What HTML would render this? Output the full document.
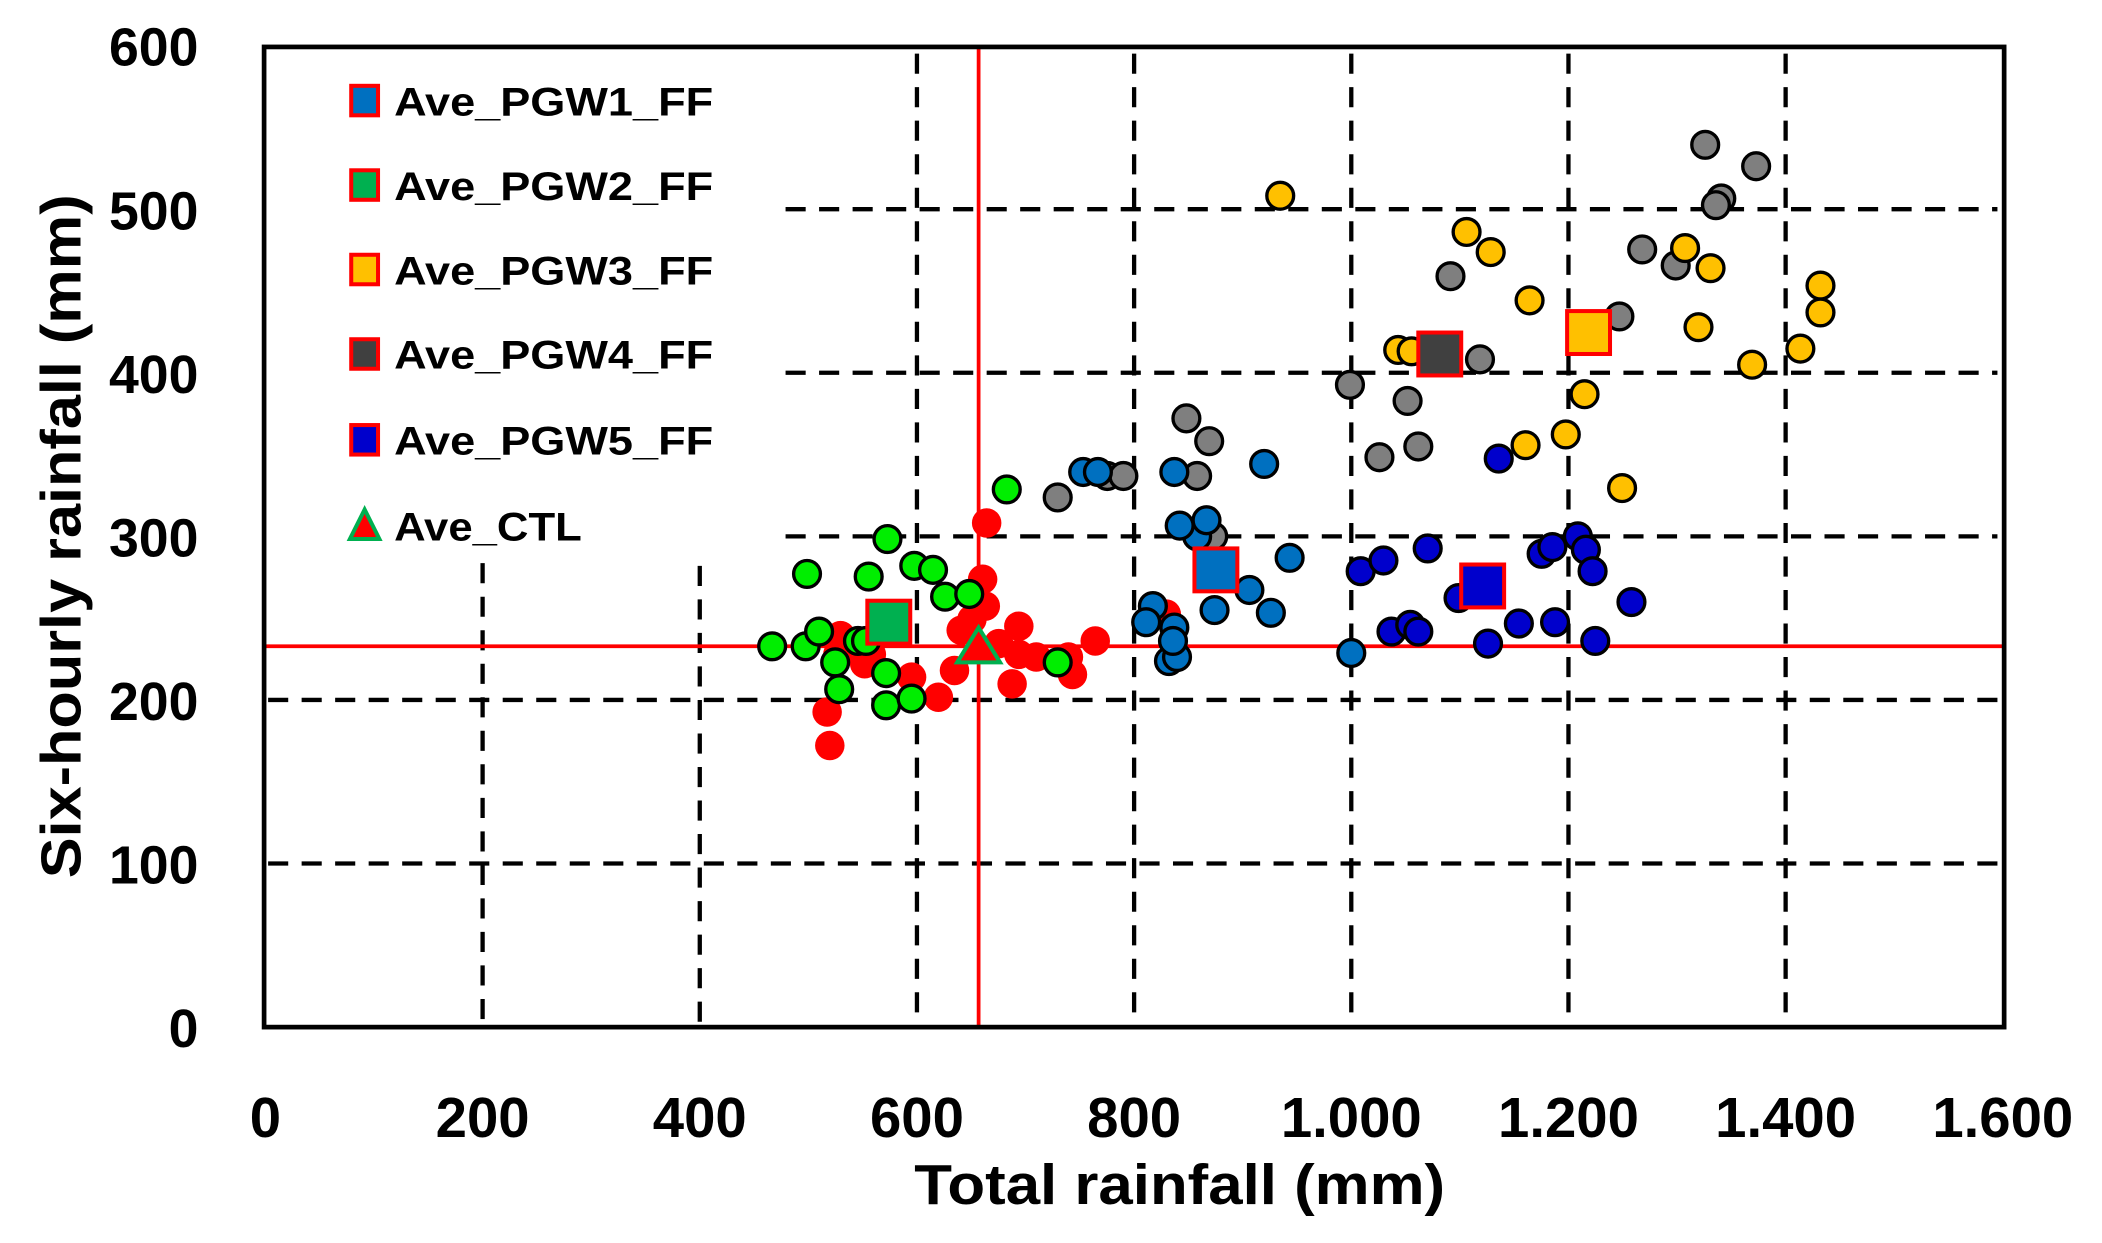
<!DOCTYPE html>
<html><head><meta charset="utf-8"><style>html,body{margin:0;padding:0;background:#fff;}svg{display:block}</style></head>
<body>
<svg width="2102" height="1243" viewBox="0 0 1568 927" preserveAspectRatio="none" xmlns="http://www.w3.org/2000/svg" font-family="Liberation Sans, sans-serif" font-weight="bold">
<rect width="1568" height="927" fill="#fff"/>
<g stroke="#000" stroke-width="3.2" stroke-dasharray="15,10" fill="none">
<line x1="360" y1="420" x2="360" y2="766"/>
<line x1="522" y1="422" x2="522" y2="766"/>
<line x1="684" y1="40" x2="684" y2="766"/>
<line x1="846" y1="40" x2="846" y2="766"/>
<line x1="1008" y1="40" x2="1008" y2="766"/>
<line x1="1170" y1="40" x2="1170" y2="766"/>
<line x1="1332" y1="40" x2="1332" y2="766"/>
<line x1="586" y1="156" x2="1490" y2="156"/>
<line x1="586" y1="278" x2="1490" y2="278"/>
<line x1="586" y1="400" x2="1490" y2="400"/>
<line x1="200" y1="522" x2="1490" y2="522"/>
<line x1="200" y1="644" x2="1490" y2="644"/>
</g>
<line x1="730" y1="36" x2="730" y2="766" stroke="#f00" stroke-width="2.8"/>
<line x1="197" y1="482" x2="1495" y2="482" stroke="#f00" stroke-width="2.8"/>
<g fill="#ff0000">
<circle cx="617" cy="531" r="11"/><circle cx="619" cy="556" r="11"/><circle cx="627" cy="474" r="11"/><circle cx="650" cy="488" r="11"/><circle cx="680" cy="505" r="11"/><circle cx="700" cy="520" r="11"/><circle cx="717" cy="470" r="11"/><circle cx="733" cy="432" r="11"/><circle cx="736" cy="390" r="11"/><circle cx="760" cy="467" r="11"/><circle cx="755" cy="510" r="11"/><circle cx="773" cy="490" r="11"/><circle cx="797" cy="490" r="11"/><circle cx="817" cy="478" r="11"/><circle cx="800" cy="503" r="11"/><circle cx="870" cy="458" r="11"/><circle cx="725" cy="462" r="11"/><circle cx="625" cy="488" r="11"/><circle cx="645" cy="495" r="11"/><circle cx="760" cy="488" r="11"/><circle cx="735" cy="452" r="11"/><circle cx="712" cy="500" r="11"/><circle cx="745" cy="480" r="11"/>
</g>
<g stroke="#000" stroke-width="2.5">
<g fill="#00ee00">
<circle cx="576" cy="482" r="10"/><circle cx="601" cy="482" r="10"/><circle cx="611" cy="471" r="10"/><circle cx="623" cy="494" r="10"/><circle cx="626" cy="514" r="10"/><circle cx="640" cy="478" r="10"/><circle cx="662" cy="402" r="10"/><circle cx="648" cy="430" r="10"/><circle cx="661" cy="502" r="10"/><circle cx="661" cy="526" r="10"/><circle cx="682" cy="422" r="10"/><circle cx="696" cy="425" r="10"/><circle cx="705" cy="445" r="10"/><circle cx="723" cy="443" r="10"/><circle cx="680" cy="521" r="10"/><circle cx="602" cy="428" r="10"/><circle cx="789" cy="494" r="10"/><circle cx="751" cy="365" r="10"/><circle cx="646" cy="478" r="10"/>
</g>
<g fill="#7f7f7f">
<circle cx="1272" cy="108" r="10"/><circle cx="1310" cy="124" r="10"/><circle cx="1284" cy="148" r="10"/><circle cx="1280" cy="153" r="10"/><circle cx="1225" cy="186" r="10"/><circle cx="1250" cy="198" r="10"/><circle cx="1082" cy="206" r="10"/><circle cx="1104" cy="268" r="10"/><circle cx="1007" cy="287" r="10"/><circle cx="1050" cy="299" r="10"/><circle cx="1029" cy="341" r="10"/><circle cx="1058" cy="333" r="10"/><circle cx="885" cy="312" r="10"/><circle cx="902" cy="329" r="10"/><circle cx="893" cy="355" r="10"/><circle cx="826" cy="355" r="10"/><circle cx="838" cy="355" r="10"/><circle cx="789" cy="371" r="10"/><circle cx="1208" cy="236" r="10"/><circle cx="905" cy="400" r="10"/>
</g>
<g fill="#ffc000">
<circle cx="955" cy="146" r="10"/><circle cx="1094" cy="173" r="10"/><circle cx="1112" cy="188" r="10"/><circle cx="1141" cy="224" r="10"/><circle cx="1182" cy="294" r="10"/><circle cx="1168" cy="324" r="10"/><circle cx="1138" cy="332" r="10"/><circle cx="1210" cy="364" r="10"/><circle cx="1257" cy="185" r="10"/><circle cx="1276" cy="200" r="10"/><circle cx="1267" cy="244" r="10"/><circle cx="1307" cy="272" r="10"/><circle cx="1343" cy="260" r="10"/><circle cx="1358" cy="213" r="10"/><circle cx="1358" cy="233" r="10"/><circle cx="1043" cy="261" r="10"/><circle cx="1053" cy="262" r="10"/>
</g>
<g fill="#0070c0">
<circle cx="808" cy="352" r="10"/><circle cx="819" cy="352" r="10"/><circle cx="876" cy="352" r="10"/><circle cx="943" cy="346" r="10"/><circle cx="893" cy="400" r="10"/><circle cx="880" cy="392" r="10"/><circle cx="900" cy="388" r="10"/><circle cx="910" cy="430" r="10"/><circle cx="962" cy="416" r="10"/><circle cx="860" cy="452" r="10"/><circle cx="855" cy="464" r="10"/><circle cx="948" cy="457" r="10"/><circle cx="876" cy="468" r="10"/><circle cx="872" cy="493" r="10"/><circle cx="878" cy="490" r="10"/><circle cx="906" cy="455" r="10"/><circle cx="1008" cy="487" r="10"/><circle cx="932" cy="440" r="10"/><circle cx="875" cy="478" r="10"/>
</g>
<g fill="#0000cc">
<circle cx="1118" cy="342" r="10"/><circle cx="1015" cy="426" r="10"/><circle cx="1032" cy="418" r="10"/><circle cx="1065" cy="409" r="10"/><circle cx="1150" cy="413" r="10"/><circle cx="1158" cy="408" r="10"/><circle cx="1177" cy="400" r="10"/><circle cx="1183" cy="410" r="10"/><circle cx="1188" cy="426" r="10"/><circle cx="1217" cy="449" r="10"/><circle cx="1038" cy="471" r="10"/><circle cx="1052" cy="466" r="10"/><circle cx="1058" cy="471" r="10"/><circle cx="1133" cy="465" r="10"/><circle cx="1110" cy="480" r="10"/><circle cx="1160" cy="464" r="10"/><circle cx="1190" cy="478" r="10"/><circle cx="1088" cy="446" r="10"/>
</g>
</g>
<g stroke="#f00" stroke-width="3">
<rect x="647" y="448" width="32" height="32" fill="#00b050"/>
<rect x="891" y="409" width="32" height="32" fill="#0070c0"/>
<rect x="1058" y="248" width="32" height="32" fill="#404040"/>
<rect x="1169" y="232" width="32" height="32" fill="#ffc000"/>
<rect x="1090" y="421" width="32" height="32" fill="#0000cc"/>
</g>
<polygon points="730,468 746,494 714,494" fill="#f00" stroke="#00b050" stroke-width="3"/>
<rect x="197" y="35" width="1298" height="731" fill="none" stroke="#000" stroke-width="3.5"/>
<g font-size="30">
<rect x="262" y="64" width="20" height="22" fill="#0070c0" stroke="#f00" stroke-width="3"/>
<text x="294" y="86" textLength="238" lengthAdjust="spacingAndGlyphs">Ave_PGW1_FF</text>
<rect x="262" y="127" width="20" height="22" fill="#00b050" stroke="#f00" stroke-width="3"/>
<text x="294" y="149" textLength="238" lengthAdjust="spacingAndGlyphs">Ave_PGW2_FF</text>
<rect x="262" y="190" width="20" height="22" fill="#ffc000" stroke="#f00" stroke-width="3"/>
<text x="294" y="212" textLength="238" lengthAdjust="spacingAndGlyphs">Ave_PGW3_FF</text>
<rect x="262" y="253" width="20" height="22" fill="#404040" stroke="#f00" stroke-width="3"/>
<text x="294" y="275" textLength="238" lengthAdjust="spacingAndGlyphs">Ave_PGW4_FF</text>
<rect x="262" y="317" width="20" height="22" fill="#0000cc" stroke="#f00" stroke-width="3"/>
<text x="294" y="339" textLength="238" lengthAdjust="spacingAndGlyphs">Ave_PGW5_FF</text>
<polygon points="272,380 283,402 261,402" fill="#f00" stroke="#00b050" stroke-width="3"/>
<text x="294" y="403" textLength="140" lengthAdjust="spacingAndGlyphs">Ave_CTL</text>
</g>
<g font-size="40" text-anchor="end">
<text x="148" y="49">600</text><text x="148" y="171">500</text><text x="148" y="293">400</text><text x="148" y="415">300</text><text x="148" y="537">200</text><text x="148" y="659">100</text><text x="148" y="781">0</text>
</g>
<g font-size="42" text-anchor="middle">
<text x="198" y="848">0</text><text x="360" y="848">200</text><text x="522" y="848">400</text><text x="684" y="848">600</text><text x="846" y="848">800</text><text x="1008" y="848">1.000</text><text x="1170" y="848">1.200</text><text x="1332" y="848">1.400</text><text x="1494" y="848">1.600</text>
</g>
<text x="880" y="898" font-size="42" text-anchor="middle" textLength="396" lengthAdjust="spacingAndGlyphs">Total rainfall (mm)</text>
<text transform="translate(60,400) rotate(-90)" font-size="42" text-anchor="middle" textLength="510" lengthAdjust="spacingAndGlyphs">Six-hourly rainfall (mm)</text>
</svg>
</body></html>
